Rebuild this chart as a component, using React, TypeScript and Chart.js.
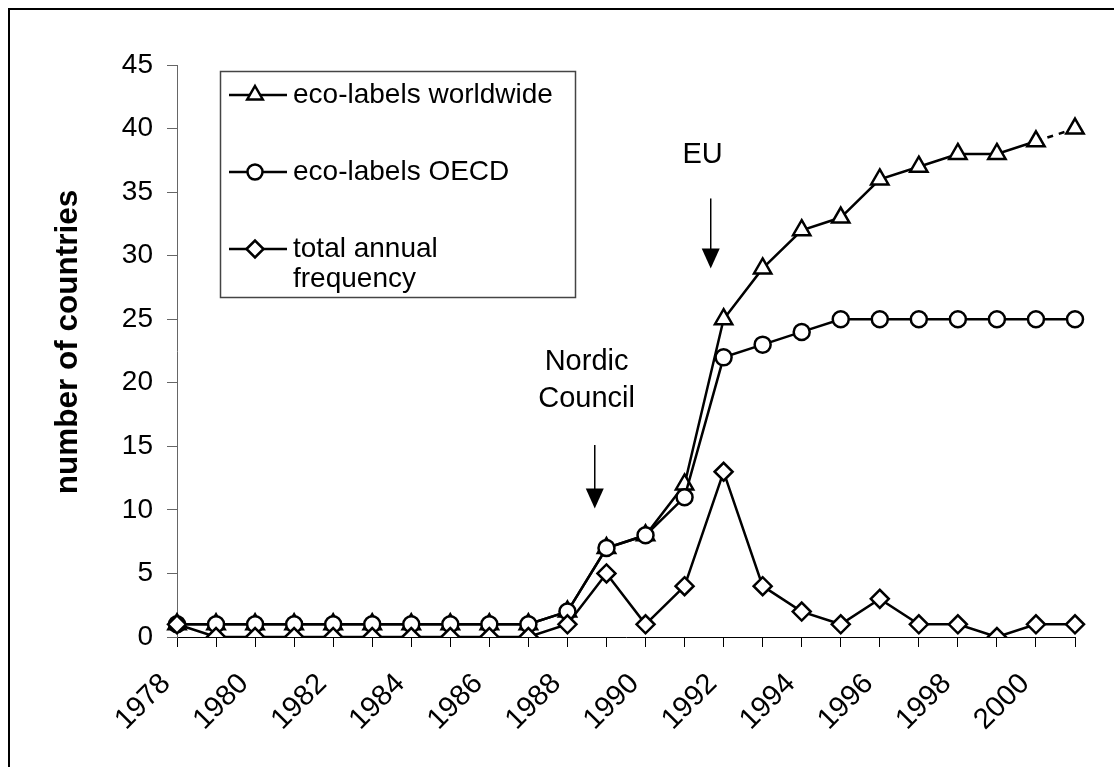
import React, { useEffect, useRef } from "react";
import { Chart, registerables } from "chart.js";

Chart.register(...registerables);

// ---------- data ----------
const years = [
  "1978", "1979", "1980", "1981", "1982", "1983", "1984", "1985", "1986", "1987",
  "1988", "1989", "1990", "1991", "1992", "1993", "1994", "1995", "1996", "1997",
  "1998", "1999", "2000", "2001",
];
const worldwide = [1, 1, 1, 1, 1, 1, 1, 1, 1, 1, 2, 7, 8, 12, 25, 29, 32, 33, 36, 37, 38, 38, 39, 40];
const oecd = [1, 1, 1, 1, 1, 1, 1, 1, 1, 1, 2, 7, 8, 11, 22, 23, 24, 25, 25, 25, 25, 25, 25, 25];
const frequency = [1, 0, 0, 0, 0, 0, 0, 0, 0, 0, 1, 5, 1, 4, 13, 4, 2, 1, 3, 1, 1, 0, 1, 1];
const seriesNames = ["eco-labels worldwide", "eco-labels OECD", "total annual frequency"];
const yMin = 0;
const yMax = 45;
const yStep = 5;
const yTitle = "number of countries";
const notes = [
  { lines: ["Nordic", "Council"], textX: 10.49, textY: 21.0, arrowX: 10.7, arrowFrom: 15.1, arrowTo: 10.1 },
  { lines: ["EU"], textX: 13.46, textY: 37.3, arrowX: 13.67, arrowFrom: 34.5, arrowTo: 29.0 },
];

const FONT = "'Liberation Sans', Arial, Helvetica, sans-serif";

function drawMarker(ctx: CanvasRenderingContext2D, style: string, x: number, y: number, r: number) {
  ctx.beginPath();
  if (style === "triangle") {
    ctx.moveTo(x, y - r);
    ctx.lineTo(x + r * 0.866, y + r * 0.5);
    ctx.lineTo(x - r * 0.866, y + r * 0.5);
    ctx.closePath();
  } else if (style === "circle") {
    ctx.arc(x, y, r, 0, Math.PI * 2);
  } else {
    ctx.moveTo(x - r, y);
    ctx.lineTo(x, y - r);
    ctx.lineTo(x + r, y);
    ctx.lineTo(x, y + r);
    ctx.closePath();
  }
  ctx.fillStyle = "#fff";
  ctx.fill();
  ctx.lineWidth = 2.5;
  ctx.strokeStyle = "#000";
  ctx.stroke();
}

const decorPlugin = {
  id: "decor",
  afterDraw(chart: any) {
    const ctx: CanvasRenderingContext2D = chart.ctx;
    const xs = chart.scales.x;
    const ys = chart.scales.y;
    ctx.save();

    // outer frame (left/top visible)
    ctx.strokeStyle = "#000";
    ctx.lineWidth = 2;
    ctx.beginPath();
    ctx.moveTo(9, 2000);
    ctx.lineTo(9, 9);
    ctx.lineTo(2000, 9);
    ctx.stroke();

    // y-axis title
    ctx.save();
    ctx.translate(68, 342);
    ctx.rotate(-Math.PI / 2);
    ctx.font = `bold 31.5px ${FONT}`;
    ctx.fillStyle = "#000";
    ctx.textAlign = "center";
    ctx.textBaseline = "middle";
    ctx.fillText(yTitle, 0, 0);
    ctx.restore();

    // annotations
    ctx.font = `29px ${FONT}`;
    ctx.fillStyle = "#000";
    ctx.textAlign = "center";
    ctx.textBaseline = "alphabetic";
    notes.forEach((n) => {
      const tx = xs.getPixelForValue(n.textX);
      const ty = ys.getPixelForValue(n.textY);
      n.lines.forEach((l, i) => ctx.fillText(l, tx, ty + i * 37));
      const ax = xs.getPixelForValue(n.arrowX);
      const a0 = ys.getPixelForValue(n.arrowFrom);
      const a1 = ys.getPixelForValue(n.arrowTo);
      ctx.strokeStyle = "#000";
      ctx.lineWidth = 1.5;
      ctx.beginPath();
      ctx.moveTo(ax, a0);
      ctx.lineTo(ax, a1 - 18);
      ctx.stroke();
      ctx.beginPath();
      ctx.moveTo(ax - 9, a1 - 20);
      ctx.lineTo(ax + 9, a1 - 20);
      ctx.lineTo(ax, a1);
      ctx.closePath();
      ctx.fill();
    });

    // legend
    const lx = 220.5, ly = 71.5, lw = 355, lh = 226;
    ctx.fillStyle = "#fff";
    ctx.fillRect(lx, ly, lw, lh);
    ctx.strokeStyle = "#444";
    ctx.lineWidth = 1.5;
    ctx.strokeRect(lx, ly, lw, lh);
    const styles = ["triangle", "circle", "rectRot"];
    const radii = [9, 7.5, 8.5];
    const rowsY = [95, 172, 249];
    const textLines = [[seriesNames[0]], [seriesNames[1]], ["total annual", "frequency"]];
    const baselines = [[103], [180], [257, 287]];
    rowsY.forEach((ry, i) => {
      ctx.strokeStyle = "#000";
      ctx.lineWidth = 2.5;
      ctx.beginPath();
      ctx.moveTo(229, ry);
      ctx.lineTo(287, ry);
      ctx.stroke();
      drawMarker(ctx, styles[i], 255, ry, radii[i]);
      ctx.fillStyle = "#000";
      ctx.font = `28px ${FONT}`;
      ctx.textAlign = "left";
      ctx.textBaseline = "alphabetic";
      textLines[i].forEach((t, k) => ctx.fillText(t, 293, baselines[i][k]));
    });

    ctx.restore();
  },
};

export default function App() {
  const ref = useRef<HTMLCanvasElement | null>(null);

  useEffect(() => {
    document.body.style.margin = "0";
    const canvas = ref.current!;
    const chart = new Chart(canvas, {
      type: "line",
      data: {
        labels: years,
        datasets: [
          {
            label: seriesNames[0],
            data: worldwide,
            borderColor: "#000",
            borderWidth: 2.5,
            pointStyle: "triangle",
            pointRadius: 10,
            pointBackgroundColor: "#fff",
            pointBorderColor: "#000",
            pointBorderWidth: 2.5,
            tension: 0,
            order: 3,
            segment: {
              borderDash: (c: any) => (c.p1DataIndex === worldwide.length - 1 ? [6, 6] : undefined),
            },
          },
          {
            label: seriesNames[1],
            data: oecd,
            borderColor: "#000",
            borderWidth: 2.5,
            pointStyle: "circle",
            pointRadius: 8,
            pointBackgroundColor: "#fff",
            pointBorderColor: "#000",
            pointBorderWidth: 2.5,
            tension: 0,
            order: 2,
          },
          {
            label: seriesNames[2],
            data: frequency,
            borderColor: "#000",
            borderWidth: 2.5,
            pointStyle: "rectRot",
            pointRadius: 9,
            pointBackgroundColor: "#fff",
            pointBorderColor: "#000",
            pointBorderWidth: 2.5,
            tension: 0,
            order: 1,
          },
        ],
      },
      options: {
        responsive: false,
        animation: false,
        devicePixelRatio: 1,
        layout: { padding: { left: 0, right: 39, top: 65, bottom: 0 } },
        plugins: { legend: { display: false }, tooltip: { enabled: false }, title: { display: false } },
        scales: {
          x: {
            type: "category",
            offset: false,
            grid: { display: true, drawOnChartArea: false, drawTicks: true, tickLength: 10, color: "#000" },
            border: { display: true, color: "#000", width: 1 },
            ticks: {
              autoSkip: false,
              maxRotation: 45,
              minRotation: 45,
              padding: 20,
              labelOffset: -11,
              color: "#000",
              font: { family: FONT, size: 29 },
              callback: (_v: any, i: number) => (i % 2 === 0 ? years[i] : ""),
            },
            afterFit: (s: any) => {
              s.height = 130;
              s.paddingLeft = 0;
              s.paddingRight = 0;
            },
          },
          y: {
            min: yMin,
            max: yMax,
            grid: { display: true, drawOnChartArea: false, drawTicks: true, tickLength: 10, color: "#666" },
            border: { display: true, color: "#666", width: 1 },
            ticks: {
              stepSize: yStep,
              padding: 14,
              color: "#000",
              font: { family: FONT, size: 28 },
            },
            afterFit: (s: any) => {
              s.width = 177;
            },
          },
        },
      },
      plugins: [decorPlugin],
    });
    return () => chart.destroy();
  }, []);

  return <canvas ref={ref} width={1114} height={767} style={{ display: "block", width: 1114, height: 767 }} />;
}
